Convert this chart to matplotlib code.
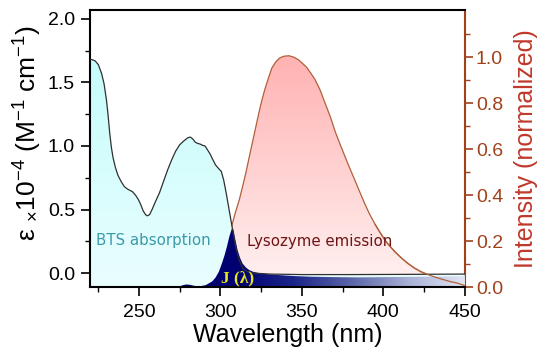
import numpy as np
import matplotlib
matplotlib.use("Agg")
import matplotlib.pyplot as plt
from matplotlib.colors import LinearSegmentedColormap
from matplotlib.patches import Polygon

plt.rcParams['font.family'] = ['Liberation Sans', 'DejaVu Sans']
plt.rcParams['mathtext.fontset'] = 'custom'
plt.rcParams['mathtext.rm'] = 'Liberation Sans'
plt.rcParams['mathtext.it'] = 'Liberation Sans:italic'
plt.rcParams['mathtext.bf'] = 'Liberation Sans:bold'

# BTS absorption (epsilon x 1e-4, M^-1 cm^-1)
abs_wl = [220, 221, 223, 225, 227, 228.5, 230, 231, 232, 233, 234, 235.5, 237, 239, 241, 243, 246,
          248, 249.5, 251, 252.5, 254, 255, 256.5, 258, 260, 262.5, 265, 267.5, 270, 272.5, 275,
          277.5, 280, 281.5, 283, 284.5, 286, 287.5, 289, 290.5, 292, 293.5, 295, 297, 299,
          300.5, 302, 303.5, 305, 306.5, 308, 309.5, 311, 312.5, 314, 316, 320, 330, 350, 380, 420, 450]
abs_eps = [1.68, 1.68, 1.67, 1.64, 1.57, 1.49, 1.36, 1.24, 1.10, 0.99, 0.91, 0.83, 0.77, 0.72, 0.68, 0.66, 0.64,
           0.61, 0.58, 0.54, 0.49, 0.46, 0.45, 0.46, 0.50, 0.56, 0.63, 0.72, 0.81, 0.89, 0.96, 1.01,
           1.04, 1.065, 1.07, 1.055, 1.03, 1.02, 1.015, 1.005, 1.0, 0.97, 0.94, 0.90, 0.85, 0.82,
           0.80, 0.73, 0.63, 0.52, 0.41, 0.30, 0.20, 0.12, 0.07, 0.035, 0.015, 0.0, -0.008, -0.012, -0.012, -0.010, -0.008]

# Lysozyme emission (normalized)
em_wl = [288, 292, 296, 300, 303, 306.5, 309, 311.5, 313.5, 315.5, 317.5, 319.5, 321.5, 323.5, 325.5,
         327.5, 329.5, 331.5, 334, 336.5, 339, 342, 345, 348, 350.5, 353, 355.5, 358, 361, 364.5,
         367.5, 370.5, 373.5, 376.5, 379.5, 382.5, 385.5, 388.5, 391.5, 395, 398, 401, 404, 407,
         411, 415, 419, 423, 427, 431, 436, 441, 446, 450]
em_int = [0.0, 0.02, 0.06, 0.11, 0.17, 0.255, 0.32, 0.378, 0.435, 0.494, 0.56, 0.625, 0.69, 0.755, 0.815,
          0.866, 0.91, 0.952, 0.98, 0.997, 1.004, 1.006, 1.0, 0.988, 0.972, 0.955, 0.93, 0.903, 0.86, 0.795,
          0.74, 0.675, 0.62, 0.567, 0.515, 0.465, 0.414, 0.364, 0.318, 0.272, 0.237, 0.204, 0.178, 0.154,
          0.127, 0.103, 0.083, 0.067, 0.055, 0.045, 0.034, 0.024, 0.016, 0.006]

# Spectral overlap J(lambda), drawn on the absorption scale from the bottom of the frame
j_wl = [273, 275, 277, 279, 281, 283, 285, 287, 289, 291, 293, 295, 297, 299, 301, 302.5, 304, 305.5,
        307, 308, 309, 310.5, 312, 313.5, 315.5, 317.5, 320, 323.5, 328, 336, 346, 356, 370, 385,
        400, 415, 430, 450]
j_val = [-0.11, -0.105, -0.095, -0.09, -0.092, -0.098, -0.103, -0.105, -0.10, -0.095, -0.08, -0.065,
         -0.035, 0.01, 0.08, 0.14, 0.21, 0.29, 0.35, 0.34, 0.27, 0.18, 0.12, 0.076, 0.045, 0.025, 0.01,
         0.0, -0.008, -0.016, -0.024, -0.029, -0.032, -0.034, -0.032, -0.030, -0.028, -0.025]

x_major = [250, 300, 350, 400, 450]
y_left_major = [0.0, 0.5, 1.0, 1.5, 2.0]
y_right_major = [0.0, 0.2, 0.4, 0.6, 0.8, 1.0]

XLIM = (220, 450)
YL = (-0.11, 2.07)
YR = (0.0, 1.205)

brown = '#a0411c'
label_red = '#c0392b'
em_line = '#b0603a'

fig = plt.figure(figsize=(5.5, 3.57), dpi=100)
ax = fig.add_axes([0.164, 0.196, 0.681, 0.776])
ax2 = ax.twinx()
ax.set_zorder(ax2.get_zorder() + 1)
ax.patch.set_visible(False)

ax.set_xlim(*XLIM)
ax.set_ylim(*YL)
ax2.set_ylim(*YR)


def gradient_fill(axis, x, ytop, ybot, cmap, vertical=True, z=1, extent=None):
    x = np.asarray(x, float)
    ytop = np.asarray(ytop, float)
    verts = np.vstack([np.column_stack([x, ytop]),
                       np.column_stack([x[::-1], np.full(len(x), ybot)])])
    poly = Polygon(verts, closed=True, facecolor='none', edgecolor='none',
                   transform=axis.transData)
    axis.add_patch(poly)
    if vertical:
        grad = np.linspace(1, 0, 256).reshape(-1, 1)
    else:
        grad = np.linspace(0, 1, 256).reshape(1, -1)
    if extent is None:
        extent = [x.min(), x.max(), ybot, ytop.max()]
    im = axis.imshow(grad, cmap=cmap, aspect='auto', extent=extent,
                     origin='upper', zorder=z, interpolation='bilinear')
    im.set_clip_path(poly)
    return im


# emission (right axis, drawn beneath)
em_cmap = LinearSegmentedColormap.from_list('em', ['#fff2f2', '#ffb2b2'])
gradient_fill(ax2, em_wl, em_int, 0.0, em_cmap, vertical=True, z=1,
              extent=[em_wl[0], em_wl[-1], 0.0, max(em_int)])
ax2.plot(em_wl, em_int, color=em_line, lw=0.9, zorder=2)
ax2.set_xlim(*XLIM)

# absorption
abs_cmap = LinearSegmentedColormap.from_list('ab', ['#eafefe', '#c6fcfc'])
gradient_fill(ax, abs_wl, abs_eps, YL[0], abs_cmap, vertical=True, z=1,
              extent=[abs_wl[0], abs_wl[-1], YL[0], max(abs_eps)])

# J(lambda) overlap
j_cmap = LinearSegmentedColormap.from_list('j', ['#000070', '#000070', '#1a2488', '#5a64a8', '#a8b0d6', '#e2e6f4'])
gradient_fill(ax, j_wl, j_val, YL[0], j_cmap, vertical=False, z=2,
              extent=[j_wl[0], j_wl[-1], YL[0], max(j_val)])

ax.plot(abs_wl, abs_eps, color='#303030', lw=0.9, zorder=3)

# tail of the emission curve drawn above the light end of J(lambda)
tail = [i for i, w in enumerate(em_wl) if w >= 395]
ax.plot([em_wl[i] for i in tail], [em_int[i] for i in tail], color=em_line, lw=0.9, zorder=4,
        transform=ax2.transData)

ax.set_xlim(*XLIM)
ax.set_ylim(*YL)

# texts
ax.text(223.5, 0.26, 'BTS absorption', color='#3a9aaa', fontsize=10.8, va='center', ha='left', zorder=5,
        family=['DejaVu Sans'])
ax.text(316.5, 0.245, 'Lysozyme emission', color='#6e1414', fontsize=10.8, va='center', ha='left', zorder=5,
        family=['DejaVu Sans'])
ax.text(300.3, -0.045, 'J (λ)', color='#e6e61e', fontsize=12.5, fontweight='bold', va='center',
        ha='left', zorder=5, family=['Liberation Serif', 'DejaVu Serif'])

# ticks
ax.set_xticks(x_major)
ax.set_xticks([225, 275, 325, 375, 425], minor=True)
ax.set_yticks(y_left_major)
ax.set_yticks([0.25, 0.75, 1.25, 1.75], minor=True)
ax2.set_yticks(y_right_major)
ax2.set_yticks([0.1, 0.3, 0.5, 0.7, 0.9, 1.1], minor=True)

ax.tick_params(axis='both', which='major', direction='out', length=6.5, width=1.2, labelsize=14,
               colors='black', top=False, right=False)
ax.tick_params(axis='both', which='minor', direction='out', length=3.6, width=1.0, top=False, right=False)
ax.tick_params(axis='x', which='major', pad=6)
ax.tick_params(axis='y', which='major', pad=4.5)
ax2.tick_params(axis='y', which='major', direction='out', length=6, width=1.2, labelsize=14,
                colors=brown, labelcolor=brown, pad=2)
ax2.tick_params(axis='y', which='minor', direction='out', length=3.6, width=1.0, colors=brown)
ax2.set_yticklabels(['%.1f' % v for v in y_right_major])
ax.set_yticklabels(['%.1f' % v for v in y_left_major])

for s in ['left', 'bottom', 'top']:
    ax.spines[s].set_linewidth(1.5)
    ax.spines[s].set_color('black')
ax.spines['right'].set_visible(False)
for s in ['left', 'bottom', 'top']:
    ax2.spines[s].set_visible(False)
ax2.spines['right'].set_color(brown)
ax2.spines['right'].set_linewidth(1.5)

ax.set_xlabel('Wavelength (nm)', fontsize=18, labelpad=1)
ax.xaxis.label.set_x(0.527)
ax.set_ylabel(r'ε $_{\times}$10$^{-4}$ (M$^{-1}$ cm$^{-1}$)', fontsize=19, labelpad=3)
ax.yaxis.label.set_y(0.556)
ax2.set_ylabel('Intensity (normalized)', fontsize=18, color=label_red, labelpad=8)

fig.savefig('out.png', dpi=100)
